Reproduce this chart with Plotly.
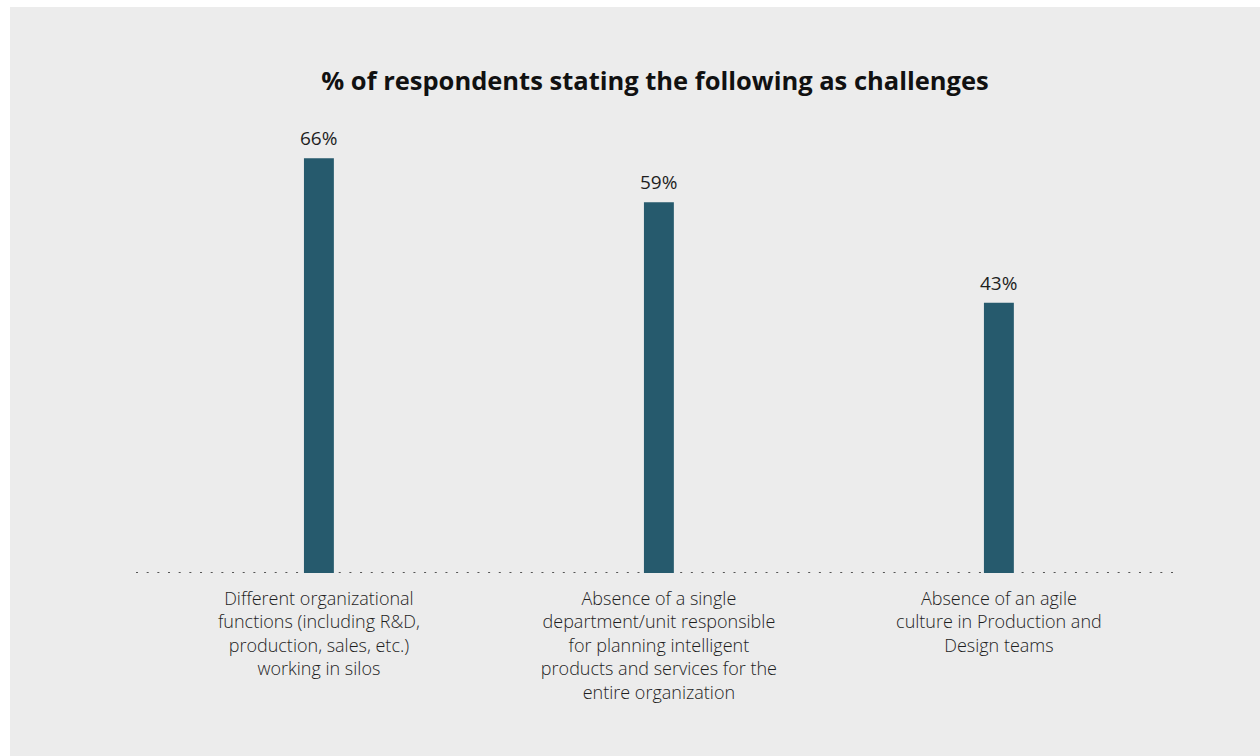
import plotly.graph_objects as go

# Survey results: share of respondents naming each challenge
categories = [
    "Different organizational<br>functions (including R&D,<br>production, sales, etc.)<br>working in silos",
    "Absence of a single<br>department/unit responsible<br>for planning intelligent<br>products and services for the<br>entire organization",
    "Absence of an agile<br>culture in Production and<br>Design teams",
]
values = [66, 59, 43]
value_labels = ["66%", "59%", "43%"]

BAR_COLOR = "#265a6d"
PANEL_GRAY = "#ececec"
TEXT_COLOR = "#1e1e1e"
FONT = "Open Sans"

fig = go.Figure(
    go.Bar(
        x=list(range(len(categories))),
        y=values,
        width=0.088,
        marker=dict(color=BAR_COLOR, line=dict(width=0)),
        hoverinfo="skip",
    )
)

# value labels above each bar
for i, (v, lab) in enumerate(zip(values, value_labels)):
    fig.add_annotation(
        x=i, y=v, text=lab, showarrow=False,
        xanchor="center", yanchor="bottom", yshift=5,
        font=dict(family=FONT, size=19, color=TEXT_COLOR, weight=400),
    )

# gray panel behind the chart
fig.add_shape(
    type="rect", xref="paper", yref="paper", layer="below",
    x0=-126 / 1039, x1=1 + 85 / 1039, y0=-183 / 440, y1=1 + 126 / 440,
    fillcolor=PANEL_GRAY, line=dict(width=0),
)
# dotted baseline
fig.add_shape(
    type="line", xref="paper", yref="y", layer="below",
    x0=0, x1=1, y0=0, y1=0,
    line=dict(color="#555555", width=2, dash="2px,8.67px"),
)

fig.update_layout(
    width=1260, height=756,
    margin=dict(l=136, r=85, t=133, b=183),
    paper_bgcolor="white",
    plot_bgcolor="rgba(0,0,0,0)",
    showlegend=False,
    title=dict(
        text="<b>% of respondents stating the following as challenges</b>",
        x=655 / 1260, y=1 - 81 / 756, xanchor="center", yanchor="middle",
        font=dict(family=FONT, size=25.5, color="#111111"),
    ),
    xaxis=dict(
        range=[-0.538, 2.518],
        tickmode="array",
        tickvals=list(range(len(categories))),
        ticktext=categories,
        showgrid=False, zeroline=False, showline=False, ticks="",
        ticklabelstandoff=13,
        tickfont=dict(family=FONT, size=18, color=TEXT_COLOR, weight=300),
    ),
    yaxis=dict(
        range=[0, 70],
        visible=False,
        showgrid=False, zeroline=False,
    ),
)

fig.write_html("out.html")
